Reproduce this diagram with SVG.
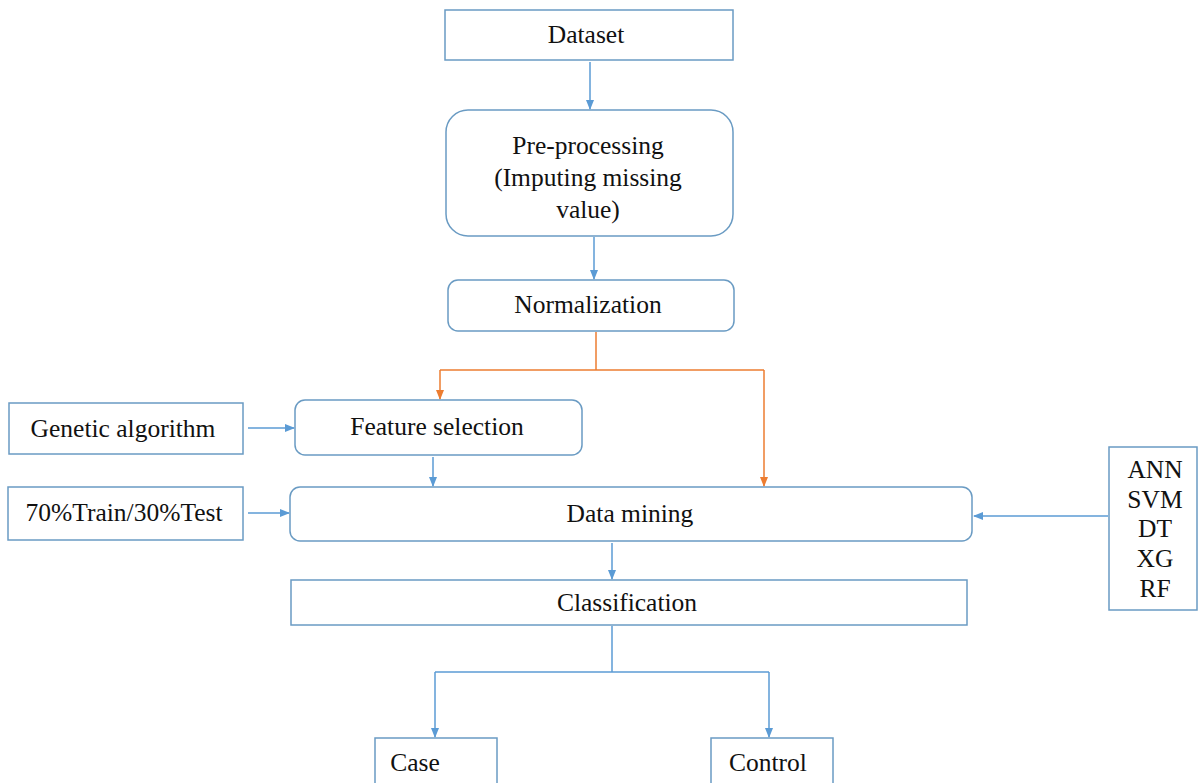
<svg xmlns="http://www.w3.org/2000/svg" width="1199" height="783" viewBox="0 0 1199 783">
<defs>
<marker id="ab" markerWidth="10" markerHeight="10" refX="9" refY="5" orient="auto" markerUnits="userSpaceOnUse"><path d="M0,1 L10,5 L0,9 z" fill="#5B9BD5"/></marker>
<marker id="ao" markerWidth="10" markerHeight="10" refX="9" refY="5" orient="auto" markerUnits="userSpaceOnUse"><path d="M0,1 L10,5 L0,9 z" fill="#ED7D31"/></marker>
</defs>
<style>
.box{fill:#fff;stroke:#6A9BC3;stroke-width:1.5}
.t{font-family:"Liberation Serif","Times New Roman",serif;font-size:25.5px;fill:#111;text-anchor:middle}
.cb{fill:none;stroke:#5B9BD5;stroke-width:1.5}
.co{fill:none;stroke:#ED7D31;stroke-width:1.5}
</style>
<rect width="1199" height="783" fill="#fff"/>
<g id="connectors">
<path class="cb" d="M590,62 V109" marker-end="url(#ab)"/>
<path class="cb" d="M594,237 V279" marker-end="url(#ab)"/>
<path class="co" d="M596,332 V370"/>
<path class="co" d="M440,370 H764"/>
<path class="co" d="M440,370 V399" marker-end="url(#ao)"/>
<path class="co" d="M764,370 V486" marker-end="url(#ao)"/>
<path class="cb" d="M248,428 H294" marker-end="url(#ab)"/>
<path class="cb" d="M433,457 V486" marker-end="url(#ab)"/>
<path class="cb" d="M248,513 H289" marker-end="url(#ab)"/>
<path class="cb" d="M1108,516 H974" marker-end="url(#ab)"/>
<path class="cb" d="M612,543 V579" marker-end="url(#ab)"/>
<path class="cb" d="M612,626 V672"/>
<path class="cb" d="M435,672 H769"/>
<path class="cb" d="M435,672 V737" marker-end="url(#ab)"/>
<path class="cb" d="M769,672 V737" marker-end="url(#ab)"/>
</g>
<g id="dataset"><rect class="box" x="445" y="10" width="288" height="50"/><text class="t" x="586" y="43">Dataset</text></g>
<g id="preprocessing"><rect class="box" x="446" y="110" width="287" height="126" rx="22"/><text class="t" x="588" y="154">Pre-processing</text><text class="t" x="588" y="186">(Imputing missing</text><text class="t" x="588" y="218">value)</text></g>
<g id="normalization"><rect class="box" x="448" y="280" width="286" height="51" rx="10"/><text class="t" x="588" y="313">Normalization</text></g>
<g id="genetic"><rect class="box" x="9" y="403" width="234" height="51"/><text class="t" x="123" y="437">Genetic algorithm</text></g>
<g id="feature"><rect class="box" x="295" y="400" width="287" height="55" rx="10"/><text class="t" x="437" y="435">Feature selection</text></g>
<g id="split"><rect class="box" x="8" y="487" width="235" height="53"/><text class="t" x="124" y="521">70%Train/30%Test</text></g>
<g id="datamining"><rect class="box" x="290" y="487" width="682" height="54" rx="10"/><text class="t" x="630" y="522">Data mining</text></g>
<g id="models"><rect class="box" x="1109" y="447" width="88" height="163"/><text class="t" x="1155" y="478">ANN</text><text class="t" x="1155" y="508">SVM</text><text class="t" x="1155" y="537">DT</text><text class="t" x="1155" y="567">XG</text><text class="t" x="1155" y="597">RF</text></g>
<g id="classification"><rect class="box" x="291" y="580" width="676" height="45"/><text class="t" x="627" y="611">Classification</text></g>
<g id="case"><rect class="box" x="375" y="738" width="122" height="50"/><text class="t" x="415" y="771">Case</text></g>
<g id="control"><rect class="box" x="711" y="738" width="122" height="50"/><text class="t" x="768" y="771">Control</text></g>
</svg>
